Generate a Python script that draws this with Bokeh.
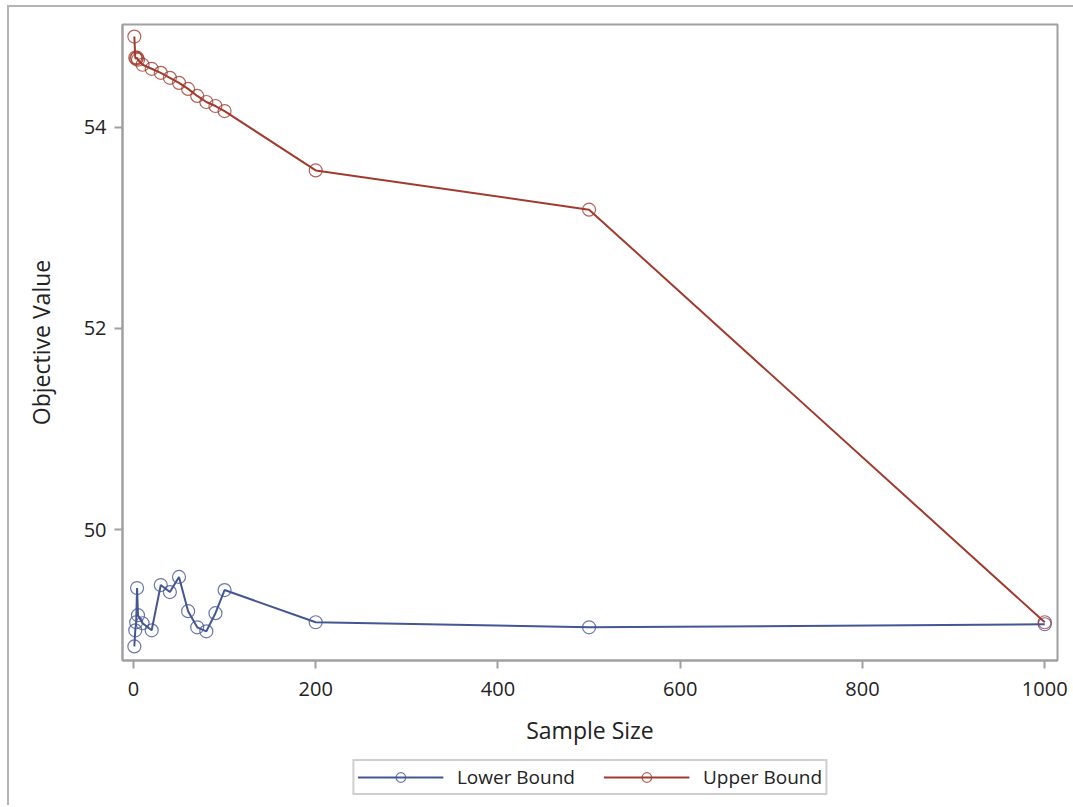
from bokeh.plotting import figure
from bokeh.layouts import column
from bokeh.models import Legend, LegendItem, FixedTicker, Range1d
from bokeh.embed import file_html
from bokeh.resources import INLINE

sample_size = [1, 2, 3, 4, 5, 10, 20, 30, 40, 50, 60, 70, 80, 90, 100, 200, 500, 1000]
lower_bound = [48.84, 49.00, 49.08, 49.42, 49.15, 49.07, 49.00, 49.45, 49.38, 49.53,
               49.19, 49.03, 48.99, 49.17, 49.40, 49.08, 49.03, 49.06]
upper_bound = [54.90, 54.69, 54.68, 54.69, 54.67, 54.62, 54.58, 54.54, 54.49, 54.44,
               54.38, 54.31, 54.25, 54.21, 54.16, 53.57, 53.18, 49.08]
x_ticks = [0, 200, 400, 600, 800, 1000]
y_ticks = [50, 52, 54]
series_names = ["Lower Bound", "Upper Bound"]

FONT = "Open Sans"
BLUE = "#445694"
RED = "#A23A2E"
GRAY = "#a0a0a0"
BORDER = "2px solid #b4b4b4"

p = figure(width=1066, height=743, output_backend="svg", toolbar_location=None,
           x_range=Range1d(-12, 1014), y_range=Range1d(48.70, 55.02),
           min_border_left=113, min_border_right=18, min_border_top=17, min_border_bottom=90)
p.margin = (5, 0, 0, 7)
p.styles = {"border-top": BORDER, "border-left": BORDER}

p.xgrid.visible = False
p.ygrid.visible = False
p.outline_line_color = GRAY
p.outline_line_width = 2

for ax in (p.xaxis[0], p.yaxis[0]):
    ax.axis_line_color = GRAY
    ax.axis_line_width = 2
    ax.major_tick_line_color = GRAY
    ax.major_tick_line_width = 2
    ax.major_tick_out = 8
    ax.major_tick_in = 0
    ax.minor_tick_line_color = None
    ax.major_label_text_font = FONT
    ax.major_label_text_font_size = "20px"
    ax.major_label_text_color = "#222222"
    ax.axis_label_text_font = FONT
    ax.axis_label_text_font_size = "23px"
    ax.axis_label_text_font_style = "normal"
    ax.axis_label_text_color = "#222222"

p.xaxis.ticker = FixedTicker(ticks=x_ticks)
p.yaxis.ticker = FixedTicker(ticks=y_ticks)
p.xaxis.axis_label = "Sample Size"
p.yaxis.axis_label = "Objective Value"
p.xaxis.major_label_standoff = 13
p.xaxis.axis_label_standoff = 15
p.yaxis.major_label_standoff = 8
p.yaxis.axis_label_standoff = 24

p.line(sample_size, lower_bound, line_color=BLUE, line_width=2)
p.scatter(sample_size, lower_bound, marker="circle", size=13, fill_color=None,
          line_color=BLUE, line_width=1.2, line_alpha=0.8)
p.line(sample_size, upper_bound, line_color=RED, line_width=2)
p.scatter(sample_size, upper_bound, marker="circle", size=13, fill_color=None,
          line_color=RED, line_width=1.2, line_alpha=0.8)

# legend strip
q = figure(width=1066, height=57, output_backend="svg", toolbar_location=None,
           x_range=Range1d(0, 1), y_range=Range1d(0, 1),
           min_border_left=0, min_border_right=0, min_border_top=0, min_border_bottom=0)
q.margin = (0, 0, 0, 7)
q.styles = {"border-left": BORDER}
q.axis.visible = False
q.grid.visible = False
q.outline_line_color = None

items = []
for name, col in zip(series_names, [BLUE, RED]):
    lr = q.line([5, 6], [5, 6], line_color=col, line_width=2)
    mr = q.scatter([5], [5], marker="circle", size=10, fill_color=None,
                   line_color=col, line_width=1.2, line_alpha=0.8)
    items.append(LegendItem(label=name, renderers=[lr, mr]))

legend = Legend(items=items, orientation="horizontal", location="center")
legend.label_text_font = FONT
legend.label_text_font_size = "19px"
legend.label_text_color = "#222222"
legend.glyph_width = 86
legend.glyph_height = 24
legend.spacing = 28
legend.padding = 3
legend.margin = 0
legend.label_standoff = 14
legend.border_line_color = GRAY
legend.border_line_width = 2
legend.background_fill_alpha = 1
q.add_layout(legend, "center")

layout = column(p, q, spacing=0)
open("out.html", "w").write(file_html(layout, INLINE))
